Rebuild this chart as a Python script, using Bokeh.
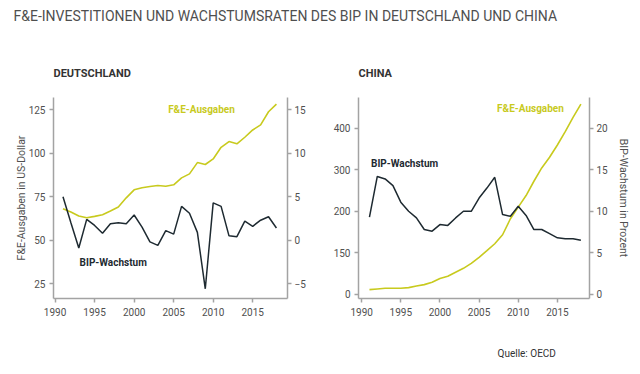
from bokeh.plotting import figure
from bokeh.models import Range1d, LinearAxis, Label, FixedTicker
from bokeh.layouts import column, row
from bokeh.embed import file_html
from bokeh.resources import INLINE

years = list(range(1991, 2019))
de_fue = [68.1, 66.2, 63.9, 62.9, 63.7, 64.7, 66.8, 69.1, 74.4, 79.0, 80.2, 80.9, 81.5, 81.1,
          81.9, 85.9, 88.2, 94.7, 93.6, 96.8, 103.5, 106.8, 105.5, 109.3, 113.5, 116.4, 124.0, 128.4]
de_bip = [5.0, 2.0, -0.9, 2.4, 1.7, 0.8, 1.9, 2.0, 1.9, 2.9, 1.5, -0.2, -0.6, 1.1,
          0.7, 3.9, 3.1, 0.9, -5.6, 4.3, 3.9, 0.5, 0.4, 2.2, 1.6, 2.3, 2.7, 1.4]
cn_fue = [11.2, 12.8, 14.4, 14.4, 14.4, 16.0, 20.0, 23.2, 28.9, 37.7, 43.3, 52.9, 62.5, 74.5,
          89.0, 105.0, 121.8, 143.5, 182.0, 210.0, 238.0, 272.5, 304.6, 330.3, 360.0, 392.0, 426.5, 458.5]
cn_bip = [9.3, 14.2, 13.9, 13.1, 11.1, 10.0, 9.2, 7.8, 7.6, 8.4, 8.3, 9.2, 10.0, 10.0,
          11.6, 12.8, 14.1, 9.6, 9.4, 10.6, 9.5, 7.8, 7.8, 7.3, 6.8, 6.7, 6.7, 6.5]

x_ticks = [1990, 1995, 2000, 2005, 2010, 2015]
de_left_ticks = [25, 50, 75, 100, 125]
de_right_ticks = [-5, 0, 5, 10, 15]
cn_left_ticks = [0, 100, 200, 300, 400]
cn_left_labels = {0: "0", 100: "150", 200: "200", 300: "300", 400: "400"}
cn_right_ticks = [0, 5, 10, 15, 20]

TITLE = "F&E-INVESTITIONEN UND WACHSTUMSRATEN DES BIP IN DEUTSCHLAND UND CHINA"
FONT = "Roboto"
YEL = "#c8ca1e"
DARK = "#1e2a31"
AX = "#a3a3a3"
TXT = "#505050"


def style_axis(ax):
    ax.axis_line_color = AX
    ax.axis_line_width = 1.5
    ax.major_tick_line_color = AX
    ax.major_tick_line_width = 1.5
    ax.major_tick_in = 0
    ax.major_tick_out = 4
    ax.minor_tick_line_color = None
    ax.major_label_text_font = FONT
    ax.major_label_text_font_size = "10px"
    ax.major_label_text_color = TXT
    ax.axis_label_text_font = FONT
    ax.axis_label_text_font_size = "10.5px"
    ax.axis_label_text_font_style = "normal"
    ax.axis_label_text_color = TXT


def blank(height):
    f = figure(width=632, height=height, x_range=Range1d(0, 632), y_range=Range1d(0, height),
               x_axis_type=None, y_axis_type=None, toolbar_location=None,
               output_backend="svg", min_border=0)
    f.outline_line_color = None
    f.grid.visible = False
    return f


HEAD_H = 86
header = blank(HEAD_H)
header.add_layout(Label(x=13, y=HEAD_H - 15, text=TITLE, text_font=FONT, text_font_size="14px",
                        text_color="#4f4f4f", text_baseline="middle"))
for name, xpos in [("DEUTSCHLAND", 53), ("CHINA", 358)]:
    header.add_layout(Label(x=xpos, y=HEAD_H - 73, text=name, text_font=FONT, text_font_size="11px",
                            text_font_style="bold", text_color="#333333", text_baseline="middle"))

FOOT_H = 36
footer = blank(FOOT_H)
footer.add_layout(Label(x=497, y=5, text="Quelle: OECD", text_font=FONT, text_font_size="10px",
                        text_color="#333333", text_baseline="middle"))


def panel(width, xr, yr, pr, left_ticks, right_ticks, fue, bip, mb_left, mb_right):
    p = figure(width=width, height=236, x_range=xr, y_range=yr, toolbar_location=None,
               output_backend="svg", min_border_left=mb_left, min_border_right=mb_right,
               min_border_top=11, min_border_bottom=24, title=None)
    p.extra_y_ranges = {"pct": pr}
    p.outline_line_color = None
    p.grid.visible = False
    p.xaxis.ticker = FixedTicker(ticks=x_ticks)
    p.yaxis.ticker = FixedTicker(ticks=left_ticks)
    right = LinearAxis(y_range_name="pct", ticker=FixedTicker(ticks=right_ticks))
    p.add_layout(right, "right")
    for ax in [p.xaxis[0], p.yaxis[0], right]:
        style_axis(ax)
    p.xaxis.major_label_standoff = 5
    p.yaxis[0].major_label_standoff = 4
    right.major_label_standoff = 3
    p.line(years, fue, line_color=YEL, line_width=1.6)
    p.line(years, bip, line_color=DARK, line_width=1.5, y_range_name="pct")
    return p, right


LBL = dict(text_font=FONT, text_font_size="10px", text_font_style="bold", text_baseline="middle")

p1, r1 = panel(320, Range1d(1989.8, 2019.4), Range1d(16.4, 132.2), Range1d(-6.72, 16.44),
               de_left_ticks, de_right_ticks, de_fue, de_bip, 53, 33)
p1.yaxis[0].axis_label = "F&E-Ausgaben in US-Dollar"
p1.yaxis[0].axis_label_standoff = -2
p1.add_layout(Label(x=2004.3, y=125, text="F&E-Ausgaben", text_color=YEL, **LBL))
p1.add_layout(Label(x=1993.1, y=36.9, text="BIP-Wachstum", text_color=DARK, **LBL))

p2, r2 = panel(312, Range1d(1989.6, 2019.1), Range1d(-10.3, 474.5), Range1d(-0.515, 23.72),
               cn_left_ticks, cn_right_ticks, cn_fue, cn_bip, 38, 40)
p2.yaxis[0].major_label_overrides = cn_left_labels
r2.axis_label = "BIP-Wachstum in Prozent"
r2.axis_label_standoff = 6
p2.add_layout(Label(x=1991.2, y=315.8, text="BIP-Wachstum", text_color=DARK, **LBL))
p2.add_layout(Label(x=2007.3, y=449, text="F&E-Ausgaben", text_color=YEL, **LBL))

layout = column(header, row(p1, p2), footer)
open("out.html", "w").write(file_html(layout, INLINE))
